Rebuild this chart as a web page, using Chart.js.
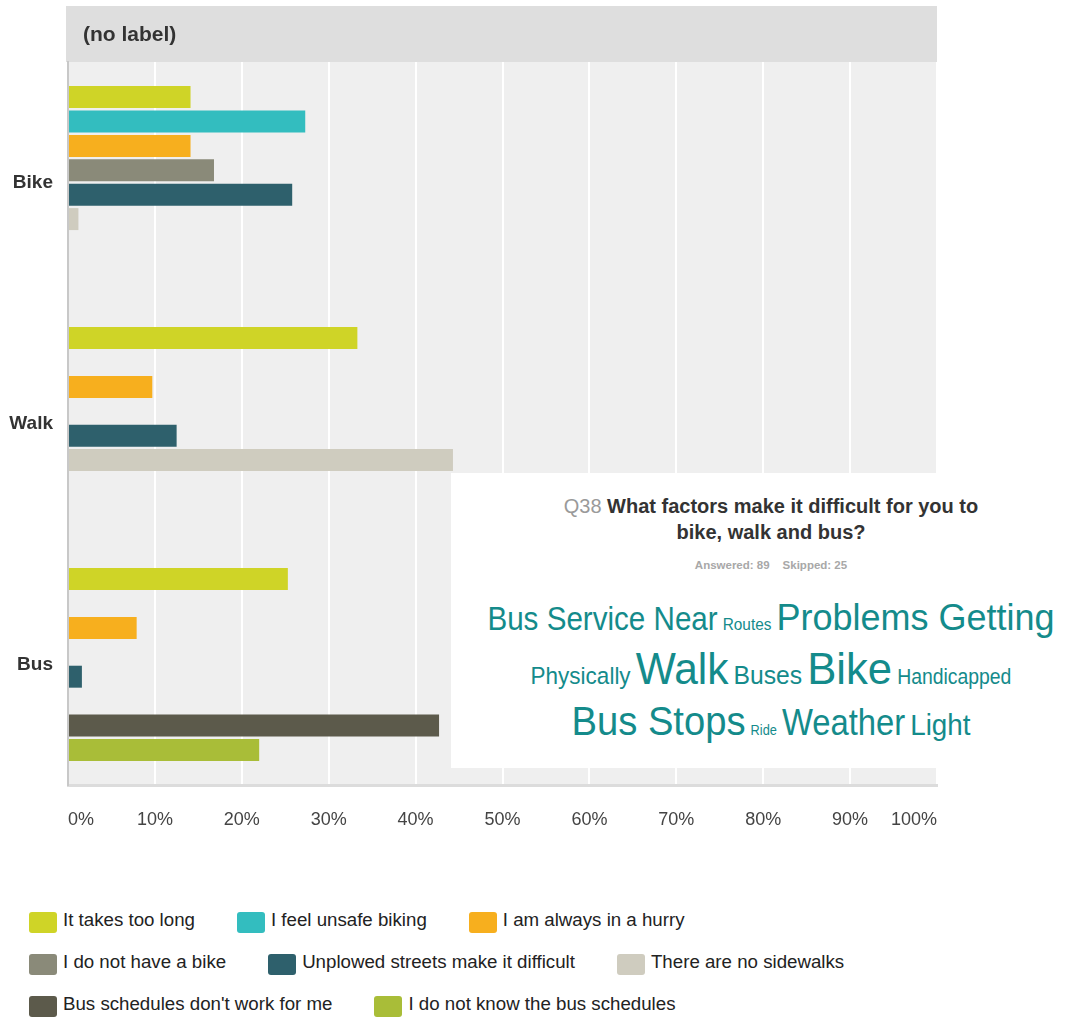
<!DOCTYPE html>
<html>
<head>
<meta charset="utf-8">
<script src="https://cdn.jsdelivr.net/npm/chart.js@4.4.0/dist/chart.umd.min.js"></script>
<style>
  html, body { margin: 0; padding: 0; background: #fff; overflow: hidden; }
  body { width: 1071px; height: 1018px; position: relative; font-family: "Liberation Sans", Arial, Helvetica, sans-serif; }
  #chartWrap { position: absolute; left: 0; top: 0; width: 1071px; height: 870px; }
  #cloudBox { position: absolute; left: 451px; top: 473px; width: 620px; height: 295px; background: #fff; }
  #cloudBox .title { position: absolute; left: 20px; right: 0; top: 20px; text-align: center; font-size: 20px; line-height: 26px; font-weight: bold; color: #333; white-space: nowrap; }
  #cloudBox .title .qnum { color: #9a9a9a; font-weight: normal; }
  #cloudBox .stats { position: absolute; left: 20px; right: 0; top: 85px; text-align: center; font-size: 11.5px; line-height: 14px; font-weight: bold; color: #a8a8a8; white-space: nowrap; }
  #cloudBox .stats span + span { margin-left: 13px; }
  #cloudBox .row { position: absolute; left: 20px; right: 0; display: flex; justify-content: center; align-items: baseline; gap: 5px; white-space: nowrap; }
  #cloudBox .word { display: inline-block; line-height: 1; color: #148b8b; transform-origin: 50% 84.65%; }
  #legend { position: absolute; left: 29px; top: 912px; width: 871px; display: flex; flex-wrap: wrap; column-gap: 42px; row-gap: 21px; }
  #legend .item { display: flex; align-items: center; height: 21px; }
  #legend .swatch { width: 28px; height: 21px; border-radius: 3px; }
  #legend .label { position: relative; top: -3px; margin-left: 6px; font-size: 18.7px; line-height: 21px; color: #222; white-space: nowrap; }
</style>
</head>
<body>
<div id="chartWrap"><canvas id="factorsChart" width="1071" height="870"></canvas></div>
<div id="cloudBox">
  <div class="title"><span class="qnum">Q38</span> What factors make it difficult for you to<br>bike, walk and bus?</div>
  <div class="stats"><span>Answered: 89</span><span>Skipped: 25</span></div>
</div>
<div id="legend"></div>
<script>
// percent of respondents per mode
const categories = ['Bike', 'Walk', 'Bus'];
const seriesNames = [
  'It takes too long',
  'I feel unsafe biking',
  'I am always in a hurry',
  'I do not have a bike',
  'Unplowed streets make it difficult',
  'There are no sidewalks',
  "Bus schedules don't work for me",
  'I do not know the bus schedules'
];
const seriesColors = ['#cfd427', '#33bdbf', '#f7af1e', '#8a8a79', '#2e606c', '#cfccbf', '#5c5a4b', '#a9bd38'];

const takesTooLong      = [14.1, 33.3, 25.3];
const unsafeBiking      = [27.3, 0, 0];
const alwaysInHurry     = [14.1, 9.7, 7.9];
const noBike            = [16.8, 0, 0];
const unplowedStreets   = [25.8, 12.5, 1.6];
const noSidewalks       = [1.2, 44.3, 0];
const schedulesDontWork = [0, 0, 42.7];
const unknownSchedules  = [0, 0, 22.0];

const seriesValues = [takesTooLong, unsafeBiking, alwaysInHurry, noBike,
  unplowedStreets, noSidewalks, schedulesDontWork, unknownSchedules];

const axisMin = 0;
const axisMax = 100;
const axisStep = 10;

// word cloud rows: [word, font size, vertical stretch]
const cloudRow1 = [['Bus Service Near', 29.6, 1.14], ['Routes', 15.4, 1.06], ['Problems Getting', 36, 1.04]];
const cloudRow2 = [['Physically', 22.5, 1.08], ['Walk', 42.5, 1.03], ['Buses', 24.7, 1.04], ['Bike', 43.7, 1.0], ['Handicapped', 19.4, 1.09]];
const cloudRow3 = [['Bus Stops', 38.2, 1.06], ['Ride', 12.8, 1.1], ['Weather', 32.8, 1.13], ['Light', 27.8, 1.09]];
const cloudRowTops = [126.5, 173.8, 230];

const FONT = '"Liberation Sans", Arial, Helvetica, sans-serif';
Chart.defaults.font.family = FONT;

const datasets = seriesNames.map((name, i) => ({
  label: name,
  data: seriesValues[i],
  backgroundColor: seriesColors[i],
  borderWidth: 0,
  barPercentage: 0.9,
  categoryPercentage: 0.81
}));

// grey plot backdrop and the header band above it
const backdrop = {
  id: 'backdrop',
  beforeDraw(chart) {
    const { ctx, chartArea: a } = chart;
    ctx.save();
    ctx.fillStyle = '#efefef';
    ctx.fillRect(a.left, a.top, a.right - a.left, a.bottom - a.top);
    ctx.fillStyle = '#dedede';
    ctx.fillRect(a.left - 2, 6, a.right - a.left + 2, a.top - 6);
    ctx.fillStyle = '#333';
    ctx.font = 'bold 21px ' + FONT;
    ctx.textBaseline = 'middle';
    ctx.fillText('(no label)', a.left + 15, (6 + a.top) / 2 + 1);
    ctx.restore();
  }
};

new Chart(document.getElementById('factorsChart'), {
  type: 'bar',
  data: { labels: categories, datasets: datasets },
  options: {
    indexAxis: 'y',
    responsive: false,
    animation: false,
    layout: { padding: { left: 0, right: 134, top: 62, bottom: 0 } },
    plugins: {
      legend: { display: false },
      tooltip: { enabled: false }
    },
    scales: {
      x: {
        min: axisMin,
        max: axisMax,
        afterFit: s => { s.height = 85; },
        grid: {
          color: c => (c.tick && c.tick.value === 0 ? 'rgba(0,0,0,0)' : '#ffffff'),
          lineWidth: 2,
          drawTicks: false
        },
        border: { display: true, color: '#dcdcdc', width: 3 },
        ticks: {
          stepSize: axisStep,
          align: 'inner',
          padding: 24,
          maxRotation: 0,
          autoSkip: false,
          color: '#444',
          font: { size: 18 },
          callback: v => v + '%'
        }
      },
      y: {
        afterFit: s => { s.width = 68; },
        grid: { display: false, drawTicks: false },
        border: { display: true, color: '#c8c8c8', width: 2 },
        ticks: { padding: 15, color: '#333', font: { size: 19, weight: 'bold' } }
      }
    }
  },
  plugins: [backdrop]
});

// word cloud
const cloudBox = document.getElementById('cloudBox');
[cloudRow1, cloudRow2, cloudRow3].forEach((row, r) => {
  const div = document.createElement('div');
  div.className = 'row';
  div.style.top = cloudRowTops[r] + 'px';
  row.forEach(([text, size, stretch]) => {
    const span = document.createElement('span');
    span.className = 'word';
    span.textContent = text;
    span.style.fontSize = size + 'px';
    span.style.transform = 'scaleY(' + stretch + ')';
    div.appendChild(span);
  });
  cloudBox.appendChild(div);
});

// legend
const legend = document.getElementById('legend');
seriesNames.forEach((name, i) => {
  const item = document.createElement('div');
  item.className = 'item';
  const sw = document.createElement('span');
  sw.className = 'swatch';
  sw.style.background = seriesColors[i];
  const label = document.createElement('span');
  label.className = 'label';
  label.textContent = name;
  item.appendChild(sw);
  item.appendChild(label);
  legend.appendChild(item);
});
</script>
</body>
</html>
